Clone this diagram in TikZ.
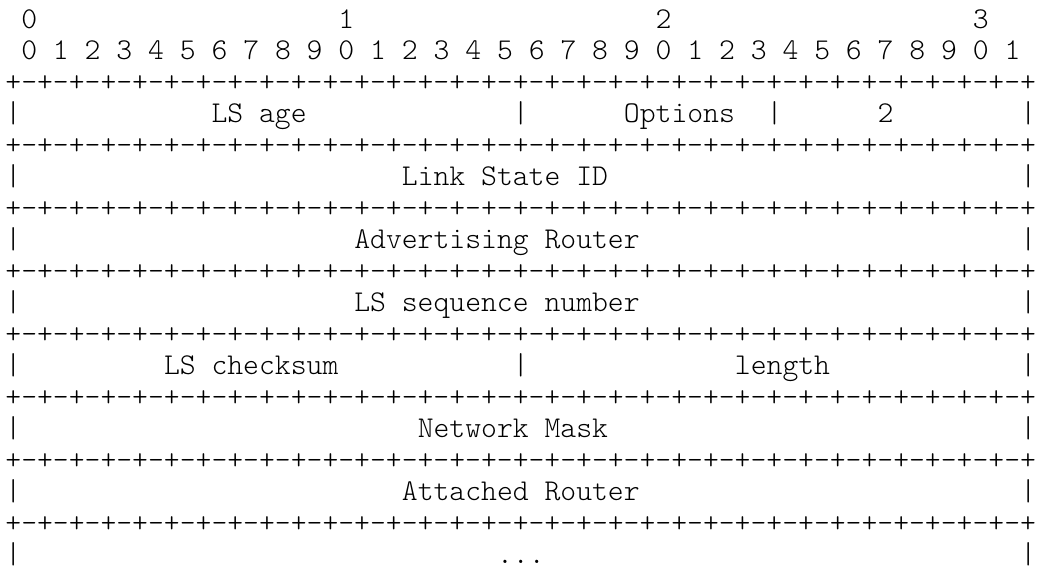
\documentclass[tikz,border=0pt]{standalone}
\newcommand\rulepairs{+-+-+-+-}

\begin{document}
\begin{tikzpicture}[x=7.93pt, y=-15.75pt,
    ascii/.style={font=\fontsize{15.1pt}{15.75pt}\fontseries{l}\ttfamily\selectfont, inner sep=0pt, anchor=base west, text=black}]
    \useasboundingbox (-2.5pt,14pt) rectangle (516.5pt,-270.5pt);

    % bit numbers
    \foreach \t in {0,...,3}
        \node (ten\t) [ascii] at (1+20*\t,0) {\t};
    \foreach \b in {0,...,31} {
        \pgfmathtruncatemacro{\d}{mod(\b,10)}
        \node (bit\b) [ascii] at (1+2*\b,1) {\d};
    }

    % rules and outer bars
    \foreach \r in {2,4,...,16}
        \node (rule\r) [ascii] at (0,\r) {\rulepairs\rulepairs\rulepairs\rulepairs\rulepairs\rulepairs\rulepairs\rulepairs+};
    \foreach \r in {3,5,...,17} {
        \node (left\r) [ascii] at (0,\r) {|};
        \node (right\r) [ascii] at (64,\r) {|};
    }

    % fields
    \node (lsage) [ascii] at (13,3) {LS age};
    \node (bar3a) [ascii] at (32,3) {|};
    \node (options) [ascii] at (39,3) {Options};
    \node (bar3b) [ascii] at (48,3) {|};
    \node (lstype) [ascii] at (55,3) {2};
    \node (lsid) [ascii] at (25,5) {Link State ID};
    \node (advrouter) [ascii] at (22,7) {Advertising Router};
    \node (lsseq) [ascii] at (22,9) {LS sequence number};
    \node (checksum) [ascii] at (10,11) {LS checksum};
    \node (bar11) [ascii] at (32,11) {|};
    \node (length) [ascii] at (46,11) {length};
    \node (netmask) [ascii] at (26,13) {Network Mask};
    \node (attrouter) [ascii] at (25,15) {Attached Router};
    \node (more) [ascii] at (31,17) {...};
\end{tikzpicture}
\end{document}
